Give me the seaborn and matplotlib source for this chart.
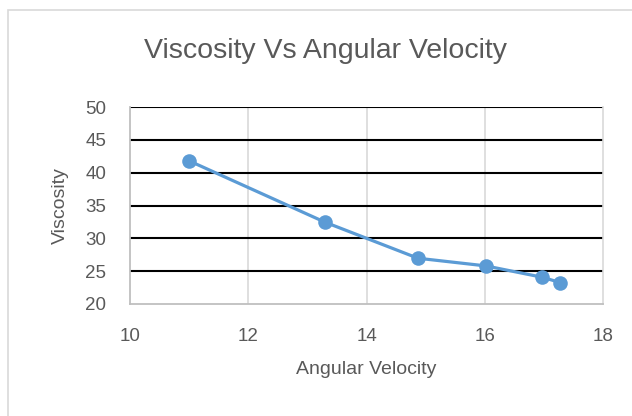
import pandas as pd
import seaborn as sns
import matplotlib.pyplot as plt
from matplotlib.patches import Rectangle

angular_velocity = [11.0, 13.3, 14.87, 16.02, 16.97, 17.28]
viscosity = [41.8, 32.45, 26.97, 25.8, 24.08, 23.26]
x_ticks = [10, 12, 14, 16, 18]
y_ticks = [20, 25, 30, 35, 40, 45, 50]

df = pd.DataFrame({"Angular Velocity": angular_velocity, "Viscosity": viscosity})

sns.set_theme(style="white")
plt.rcParams['font.family'] = ['Liberation Sans', 'DejaVu Sans']

fig = plt.figure(figsize=(6.32, 4.16), dpi=100)
ax = fig.add_axes([130/632, 1-304/416, 473/632, 197/416])

# chart frame (runs past the right and bottom edge of the picture)
fig.patches.append(Rectangle((8/632, -0.1), 1.2, 1.1 - 10/416, transform=fig.transFigure,
                             fill=False, edgecolor="#d9d9d9", lw=1.2, zorder=0))

for x in x_ticks[1:-1]:
    ax.axvline(x, color="#d9d9d9", lw=1.2, zorder=1)
for y in y_ticks[1:]:
    ax.axhline(y, color="black", lw=1.5, zorder=1)

sns.lineplot(data=df, x="Angular Velocity", y="Viscosity", ax=ax, color="#5b9bd5",
             lw=2.3, marker="o", markersize=10.5, markeredgewidth=0, zorder=3)

ax.set_xlim(10, 18)
ax.set_ylim(20, 50)
ax.set_xticks(x_ticks)
ax.set_yticks(y_ticks)
ax.tick_params(axis="both", length=0, labelsize=13.5, labelcolor="#595959", pad=17)
for s in ["left", "bottom"]:
    ax.spines[s].set_color("#bfbfbf")
    ax.spines[s].set_linewidth(1.3)
ax.spines["right"].set_color("#d9d9d9")
ax.spines["right"].set_linewidth(1.2)
ax.spines["top"].set_visible(False)

ax.set_xlabel("Angular Velocity", fontsize=14, color="#595959", labelpad=12)
ax.set_ylabel("Viscosity", fontsize=14, color="#595959", labelpad=12)
fig.text(326/632, 1-51/416, "Viscosity Vs Angular Velocity", fontsize=20.5,
         color="#595959", ha="center", va="center")

fig.savefig("out.png", dpi=100)
